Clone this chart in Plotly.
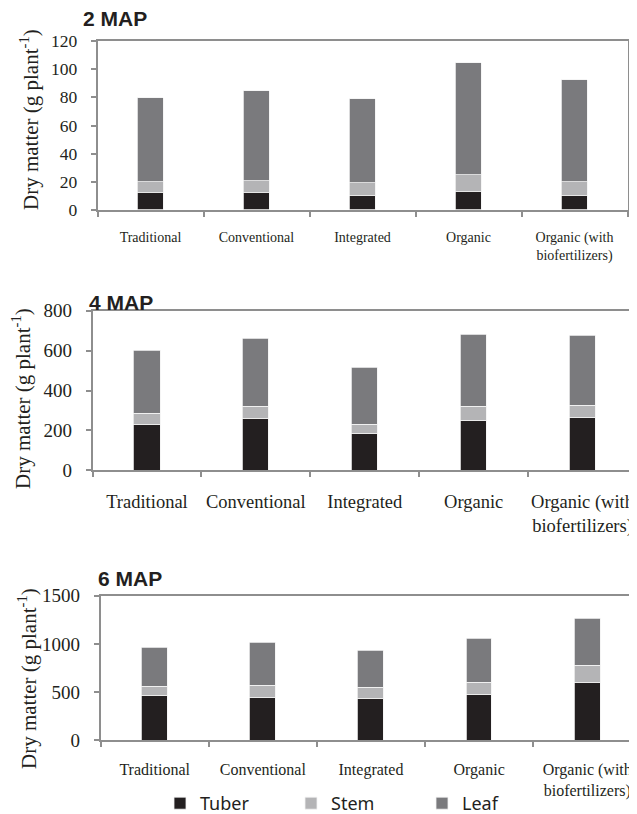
import plotly.graph_objects as go

categories = ["Traditional", "Conventional", "Integrated", "Organic", "Organic (with<br>biofertilizers)"]
series_names = ["Tuber", "Stem", "Leaf"]

# 2 MAP (g plant-1), stacked segments
map2_tuber = [12.0, 12.0, 10.2, 12.5, 10.2]
map2_stem = [8.1, 8.6, 8.7, 12.1, 9.9]
map2_leaf = [59.7, 64.0, 60.2, 79.6, 72.0]

# 4 MAP
map4_tuber = [227, 259, 185, 250, 264]
map4_stem = [55, 58, 45, 70, 60]
map4_leaf = [317, 342, 284, 359, 352]

# 6 MAP
map6_tuber = [463, 446, 436, 470, 601]
map6_stem = [94, 121, 114, 128, 177]
map6_leaf = [407, 446, 380, 456, 480]

panel_titles = ["2 MAP", "4 MAP", "6 MAP"]
y_ticks = [[0, 20, 40, 60, 80, 100, 120], [0, 200, 400, 600, 800], [0, 500, 1000, 1500]]
y_ranges = [[0, 120], [0, 800], [0, 1500]]

colors = {"Tuber": "#231f20", "Stem": "#b4b4b6", "Leaf": "#7a7a7d"}

# page has an 8px body margin: the figure starts at (8, 8) in the window
OFF = 8
W, H = 637 - OFF, 814 - OFF
def px_x(p):
    return (p - OFF) / W
def px_y(p):
    return 1 - (p - OFF) / H

fig = go.Figure()

panels = [
    (map2_tuber, map2_stem, map2_leaf),
    (map4_tuber, map4_stem, map4_leaf),
    (map6_tuber, map6_stem, map6_leaf),
]
axis_ids = [("x", "y"), ("x2", "y2"), ("x3", "y3")]

for pi, (tub, stm, lf) in enumerate(panels):
    xa, ya = axis_ids[pi]
    for name, vals in zip(series_names, (tub, stm, lf)):
        fig.add_trace(go.Bar(
            x=categories, y=vals, name=name, xaxis=xa, yaxis=ya,
            marker=dict(color=colors[name], line=dict(color="#f2f2f2", width=0.8)),
            width=0.24, legendgroup=name, showlegend=(pi == 2),
        ))

axis_line = "#8e8e8e"
serif = "Liberation Serif"
txt = "#231f20"

x_domains = [[px_x(97.5), px_x(627.5)], [px_x(92.5), 1.0], [px_x(100.6), 1.0]]
x_ranges = [[-0.5, 4.5], [-0.5, 4.5], [-0.5, 4.46]]
y_domains = [[px_y(210), px_y(41)], [px_y(470.3), px_y(310.7)], [px_y(740.3), px_y(595.7)]]
x_font = [14, 18.5, 16]
x_standoff = [13, 14, 14]
y_font = [17.5, 19, 19]
y_mirror = [True, False, False]

layout = dict(
    width=W, height=H, margin=dict(l=0, r=0, t=0, b=0, autoexpand=False),
    paper_bgcolor="white", plot_bgcolor="white",
    barmode="stack", bargap=0,
    showlegend=True,
    legend=dict(orientation="h", x=px_x(160), y=px_y(785), xanchor="left", yanchor="top",
                font=dict(family="Noto Sans", size=18, color=txt),
                entrywidth=86, traceorder="normal", bgcolor="rgba(0,0,0,0)"),
)

for i in range(3):
    sx = "" if i == 0 else str(i + 1)
    layout["xaxis" + sx] = dict(
        domain=x_domains[i], anchor="y" + sx, type="category", range=x_ranges[i],
        showline=True, linecolor=axis_line, linewidth=1.5, mirror=True,
        ticks="outside", tickson="boundaries", ticklen=5, tickcolor=axis_line, tickwidth=1.5,
        tickfont=dict(family=serif, size=x_font[i], color=txt), tickangle=0,
        ticklabelstandoff=x_standoff[i], showgrid=False, zeroline=False, fixedrange=True,
    )
    layout["yaxis" + sx] = dict(
        domain=y_domains[i], anchor="x" + sx, range=y_ranges[i], tickvals=y_ticks[i],
        showline=True, linecolor=axis_line, linewidth=1.5, mirror=y_mirror[i],
        ticks="outside", ticklen=5, tickcolor=axis_line, tickwidth=1.5,
        tickfont=dict(family=serif, size=y_font[i], color=txt),
        ticklabelstandoff=10, showgrid=False, zeroline=False, fixedrange=True,
    )

fig.update_layout(**layout)

title_pos = [(81, 19), (87, 302), (96, 578.5)]
ytitle_pos = [(30, 120), (21, 399), (27, 679)]
for i in range(3):
    tx, ty = title_pos[i]
    fig.add_annotation(text="<b>" + panel_titles[i] + "</b>", xref="paper", yref="paper",
                       x=px_x(tx), y=px_y(ty), xanchor="left", yanchor="middle",
                       showarrow=False, font=dict(family="Liberation Sans", size=21, color=txt))
    ax_, ay_ = ytitle_pos[i]
    fig.add_annotation(text="Dry matter (g plant<sup>-1</sup>)", xref="paper", yref="paper",
                       x=px_x(ax_), y=px_y(ay_), xanchor="center", yanchor="middle",
                       textangle=-90, showarrow=False,
                       font=dict(family=serif, size=21, color=txt))

fig.write_html("out.html")
